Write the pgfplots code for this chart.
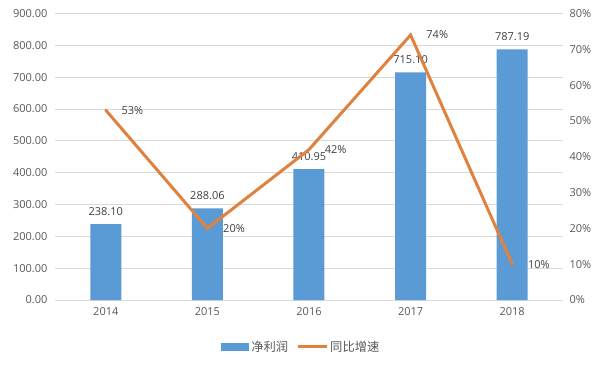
\documentclass[border=0pt]{standalone}
\usepackage{fontspec}
\setmainfont{Open Sans}
\newfontfamily\cjk{Noto Sans CJK SC}
\usepackage{pgfplots}
\pgfplotsset{compat=1.18}
\definecolor{barblue}{HTML}{5B9BD5}
\definecolor{lineor}{HTML}{E0823F}
\definecolor{gridg}{HTML}{D9D9D9}
\definecolor{txt}{HTML}{595959}
\definecolor{lbl}{HTML}{404040}
\begin{document}
\begin{tikzpicture}
\useasboundingbox (-55pt,-68pt) rectangle (548pt,300pt);
\begin{axis}[
  scale only axis, width=508pt, height=286.5pt,
  xmin=-0.5, xmax=4.5, ymin=0, ymax=900,
  xtick={0,...,4}, xticklabels={2014,2015,2016,2017,2018},
  ytick={0,100,...,900},
  yticklabel={\pgfmathprintnumber[fixed,fixed zerofill,precision=2]{\tick}},
  /pgf/number format/assume math mode=true,
  ymajorgrids, grid style={gridg, line width=0.8pt},
  axis x line*=bottom, axis y line*=left,
  x axis line style={gridg, line width=0.8pt, -},
  y axis line style={draw=none},
  major tick length=0pt,
  tick label style={font=\fontsize{11}{13}\selectfont, text=txt},
  yticklabel style={xshift=-4pt},
  xticklabel style={yshift=-4pt},
  legend style={at={(0.485,-0.164)}, anchor=center, draw=none, fill=none,
    legend columns=2, font=\cjk\fontsize{12.3}{14}\selectfont, text=txt,
    /tikz/every even column/.append style={column sep=6pt}},
]
\addplot[ybar, bar width=31pt, fill=barblue, draw=none,
  nodes near coords={\pgfmathprintnumber[fixed,fixed zerofill,precision=2]{\pgfplotspointmeta}},
  nodes near coords style={font=\fontsize{11}{13}\selectfont, text=lbl, anchor=south, yshift=5pt},
  legend image code/.code={\fill[barblue] (0pt,-4pt) rectangle (28pt,4pt);}]
  coordinates {(0,238.10)(1,288.06)(2,410.95)(3,715.10)(4,787.19)};
\addlegendentry{净利润}
\addlegendimage{legend image code/.code={\draw[lineor, line width=3pt] (0pt,0pt) -- (29pt,0pt);}}
\addlegendentry{同比增速}
\end{axis}
\begin{axis}[
  scale only axis, width=508pt, height=286.5pt,
  xmin=-0.5, xmax=4.5, ymin=0, ymax=80,
  axis y line*=right, axis x line=none,
  ytick={0,10,...,80},
  yticklabel={\pgfmathprintnumber{\tick}\%},
  /pgf/number format/assume math mode=true,
  y axis line style={draw=none},
  major tick length=0pt,
  tick label style={font=\fontsize{11}{13}\selectfont, text=txt},
  yticklabel style={xshift=3pt},
]
\addplot[lineor, line width=3pt, mark=none, line cap=round,
  nodes near coords={\pgfmathprintnumber{\pgfplotspointmeta}\%},
  nodes near coords style={font=\fontsize{11}{13}\selectfont, text=lbl, anchor=west, xshift=11pt, yshift=0pt}]
  coordinates {(0,53)(1,20)(2,42)(3,74)(4,10)};
\end{axis}
\end{tikzpicture}
\end{document}
